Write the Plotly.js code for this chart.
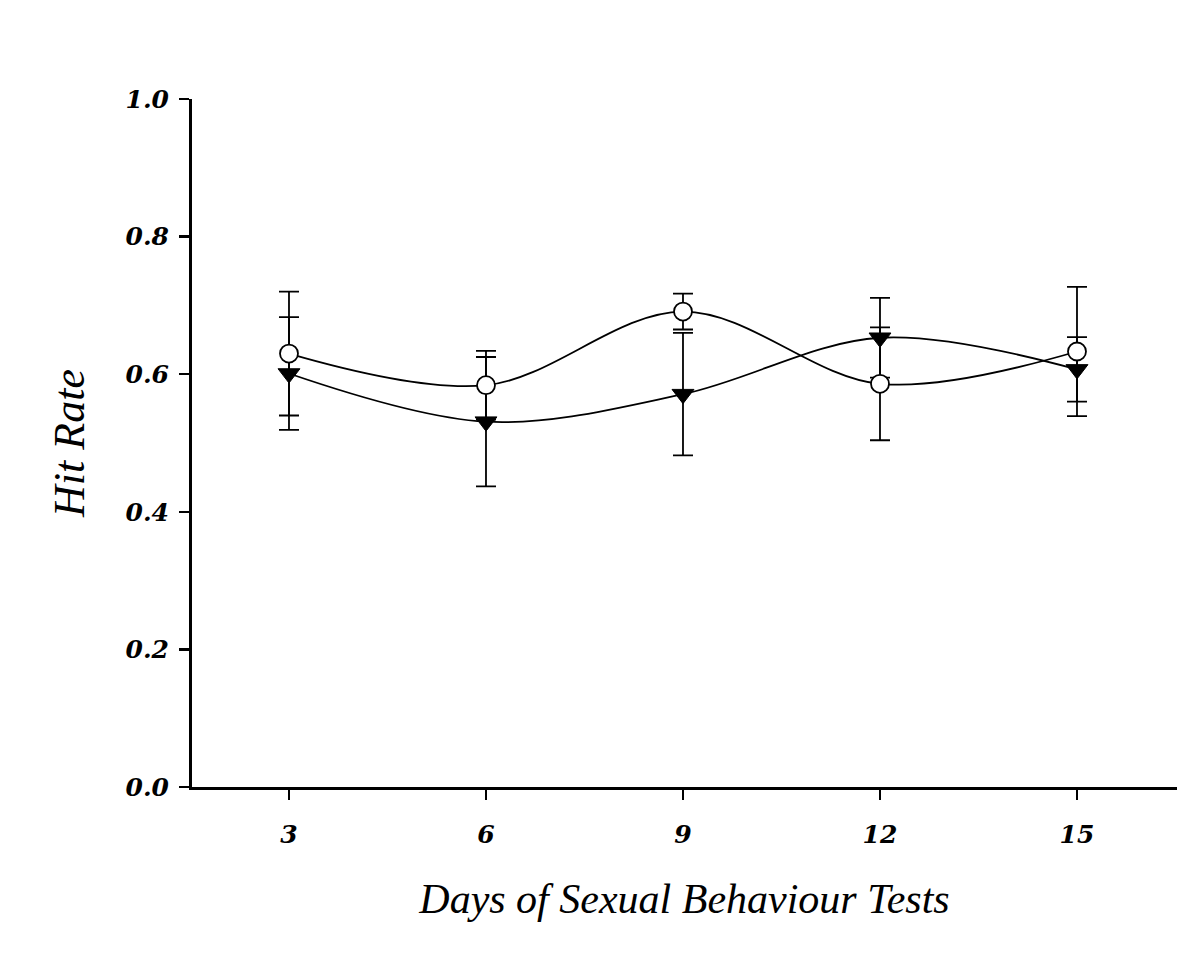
<!DOCTYPE html>
<html>
<head>
<meta charset="utf-8">
<script src="https://cdn.plot.ly/plotly-3.0.1.min.js"></script>
<style>html,body{margin:0;padding:0;background:#fff;}#chart{width:1200px;height:964px;}</style>
</head>
<body>
<div id="chart"></div>
<script>
const days = [3, 6, 9, 12, 15];
const circleMean = [0.630, 0.584, 0.691, 0.586, 0.633];
const circleErr = [0.090, 0.050, 0.026, 0.082, 0.094];
const triangleMean = [0.601, 0.531, 0.571, 0.653, 0.607];
const triangleErr = [0.082, 0.094, 0.089, 0.058, 0.047];
const yTicks = [0.0, 0.2, 0.4, 0.6, 0.8, 1.0];
const yTickText = ['0.0', '0.2', '0.4', '0.6', '0.8', '1.0'];
const xTicks = [3, 6, 9, 12, 15];

const serif = 'Liberation Serif, Times New Roman, serif';
const tickSerif = 'DejaVu Serif, Liberation Serif, serif';

const traces = [
  {
    x: days, y: triangleMean, type: 'scatter', mode: 'lines+markers',
    line: {color: '#000', width: 1.8, shape: 'spline', smoothing: 1},
    marker: {symbol: 'triangle-down', size: 19, color: '#000', line: {color: '#000', width: 1}},
    error_y: {type: 'data', array: triangleErr, visible: true, color: '#000', thickness: 1.8, width: 10}
  },
  {
    x: days, y: circleMean, type: 'scatter', mode: 'lines+markers',
    line: {color: '#000', width: 1.8, shape: 'spline', smoothing: 1},
    marker: {symbol: 'circle', size: 18, color: '#fff', line: {color: '#000', width: 1.8}},
    error_y: {type: 'data', array: circleErr, visible: true, color: '#000', thickness: 1.8, width: 10}
  }
];

const layout = {
  width: 1200, height: 964,
  margin: {l: 192, r: 23, t: 99, b: 177},
  paper_bgcolor: '#fff', plot_bgcolor: '#fff',
  showlegend: false,
  xaxis: {
    range: [1.523, 16.523],
    tickvals: xTicks,
    ticktext: xTicks.map(String),
    ticks: 'outside', ticklen: 10, tickwidth: 2.5, tickcolor: '#000',
    ticklabelstandoff: 13,
    showline: true, linecolor: '#000', linewidth: 3,
    showgrid: false, zeroline: false,
    tickfont: {family: tickSerif, size: 25, color: '#000', style: 'italic', weight: 'bold'},
    title: {text: 'Days of Sexual Behaviour Tests', standoff: 36,
      font: {family: serif, size: 42, color: '#000', style: 'italic'}}
  },
  yaxis: {
    range: [0, 1],
    tickvals: yTicks,
    ticktext: yTickText,
    ticks: 'outside', ticklen: 10, tickwidth: 2.5, tickcolor: '#000',
    ticklabelstandoff: 5,
    showline: true, linecolor: '#000', linewidth: 3,
    showgrid: false, zeroline: false,
    tickfont: {family: tickSerif, size: 25, color: '#000', style: 'italic', weight: 'bold'},
    title: {text: 'Hit Rate', standoff: 28,
      font: {family: serif, size: 44, color: '#000', style: 'italic'}}
  }
};

Plotly.newPlot('chart', traces, layout, {displayModeBar: false, staticPlot: true});
</script>
</body>
</html>
